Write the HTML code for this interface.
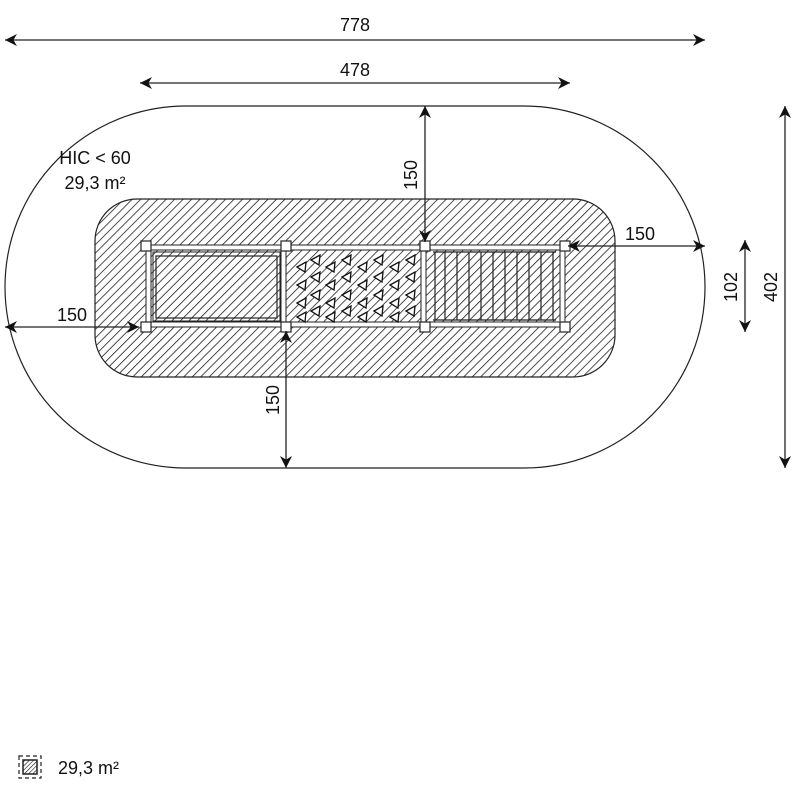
<!DOCTYPE html>
<html><head><meta charset="utf-8"><style>
html,body{margin:0;padding:0;background:#fff;width:800px;height:800px;overflow:hidden}
text{font-family:"Liberation Sans",sans-serif;font-size:18px;fill:#111}
</style></head><body>
<svg width="800" height="800" viewBox="0 0 800 800" xmlns="http://www.w3.org/2000/svg">
<defs>
<pattern id="h" patternUnits="userSpaceOnUse" width="6" height="6" patternTransform="rotate(45)">
<line x1="0" y1="0" x2="0" y2="6" stroke="#111" stroke-width="1.5"/>
</pattern>
<pattern id="h2" patternUnits="userSpaceOnUse" width="3" height="3" patternTransform="rotate(45)">
<line x1="0" y1="0" x2="0" y2="3" stroke="#111" stroke-width="1.2"/>
</pattern>
<marker id="a" viewBox="0 0 10 10" refX="10" refY="5" markerWidth="12" markerHeight="12" markerUnits="userSpaceOnUse" orient="auto-start-reverse">
<path d="M0,0 L10,5 L0,10 L3,5 z" fill="#111"/>
</marker>
</defs>
<rect x="5" y="106" width="700" height="362" rx="181" ry="181" fill="#fff" stroke="#222" stroke-width="1.2"/>
<rect x="95" y="199" width="520" height="178" rx="42" ry="42" fill="url(#h)" stroke="#222" stroke-width="1.2"/>
<g fill="#fff" stroke="#222" stroke-width="1">
<rect x="146" y="245" width="419" height="5"/>
<rect x="146" y="322" width="419" height="5"/>
<rect x="146" y="246" width="5" height="81"/>
<rect x="281" y="246" width="5" height="81"/>
<rect x="421" y="246" width="5" height="81"/>
<rect x="560" y="246" width="5" height="81"/>
</g>
<rect x="153" y="252" width="127" height="69" fill="none" stroke="#222" stroke-width="1"/>
<rect x="156" y="256" width="121" height="62" fill="none" stroke="#222" stroke-width="1.2"/>
<g stroke="#222" stroke-width="1.2">
<line x1="435" y1="252" x2="435" y2="320"/><line x1="445" y1="252" x2="445" y2="320"/>
<line x1="457" y1="252" x2="457" y2="320"/><line x1="469" y1="252" x2="469" y2="320"/>
<line x1="481" y1="252" x2="481" y2="320"/><line x1="493" y1="252" x2="493" y2="320"/>
<line x1="505" y1="252" x2="505" y2="320"/><line x1="517" y1="252" x2="517" y2="320"/>
<line x1="529" y1="252" x2="529" y2="320"/><line x1="541" y1="252" x2="541" y2="320"/>
<line x1="553" y1="252" x2="553" y2="320"/>
<line x1="433" y1="252" x2="556" y2="252"/><line x1="433" y1="320" x2="556" y2="320"/>
</g>
<g fill="#fff" stroke="#111" stroke-width="1.3">
<path d="M297,267 l9,-5 l-1,10 z"/><path d="M311,260 l9,-5 l-1,10 z"/><path d="M326,267 l9,-5 l-1,10 z"/><path d="M342,260 l9,-5 l-1,10 z"/><path d="M358,267 l9,-5 l-1,10 z"/><path d="M374,260 l9,-5 l-1,10 z"/><path d="M390,267 l9,-5 l-1,10 z"/><path d="M406,260 l9,-5 l-1,10 z"/>
<path d="M297,285 l9,-5 l-1,10 z"/><path d="M311,277 l9,-5 l-1,10 z"/><path d="M326,285 l9,-5 l-1,10 z"/><path d="M342,277 l9,-5 l-1,10 z"/><path d="M358,285 l9,-5 l-1,10 z"/><path d="M374,277 l9,-5 l-1,10 z"/><path d="M390,285 l9,-5 l-1,10 z"/><path d="M406,277 l9,-5 l-1,10 z"/>
<path d="M297,303 l9,-5 l-1,10 z"/><path d="M311,295 l9,-5 l-1,10 z"/><path d="M326,303 l9,-5 l-1,10 z"/><path d="M342,295 l9,-5 l-1,10 z"/><path d="M358,303 l9,-5 l-1,10 z"/><path d="M374,295 l9,-5 l-1,10 z"/><path d="M390,303 l9,-5 l-1,10 z"/><path d="M406,295 l9,-5 l-1,10 z"/>
<path d="M297,317 l9,-5 l-1,10 z"/><path d="M311,311 l9,-5 l-1,10 z"/><path d="M326,317 l9,-5 l-1,10 z"/><path d="M342,311 l9,-5 l-1,10 z"/><path d="M358,317 l9,-5 l-1,10 z"/><path d="M374,311 l9,-5 l-1,10 z"/><path d="M390,317 l9,-5 l-1,10 z"/><path d="M406,311 l9,-5 l-1,10 z"/>
</g>
<g fill="#fff" stroke="#222" stroke-width="1.2">
<rect x="141" y="241" width="10" height="10"/><rect x="281" y="241" width="10" height="10"/><rect x="420" y="241" width="10" height="10"/><rect x="560" y="241" width="10" height="10"/>
<rect x="141" y="322" width="10" height="10"/><rect x="281" y="322" width="10" height="10"/><rect x="420" y="322" width="10" height="10"/><rect x="560" y="322" width="10" height="10"/>
</g>
<g stroke="#222" stroke-width="1.3" fill="none">
<line x1="5" y1="40" x2="705" y2="40" marker-start="url(#a)" marker-end="url(#a)"/>
<line x1="140" y1="83" x2="570" y2="83" marker-start="url(#a)" marker-end="url(#a)"/>
<line x1="425" y1="106" x2="425" y2="242" marker-start="url(#a)" marker-end="url(#a)"/>
<line x1="568" y1="246" x2="705" y2="246" marker-start="url(#a)" marker-end="url(#a)"/>
<line x1="5" y1="327" x2="139" y2="327" marker-start="url(#a)" marker-end="url(#a)"/>
<line x1="286" y1="331" x2="286" y2="468" marker-start="url(#a)" marker-end="url(#a)"/>
<line x1="745" y1="240" x2="745" y2="332" marker-start="url(#a)" marker-end="url(#a)"/>
<line x1="785" y1="106" x2="785" y2="468" marker-start="url(#a)" marker-end="url(#a)"/>
</g>
<text x="355" y="31" text-anchor="middle">778</text>
<text x="355" y="76" text-anchor="middle">478</text>
<text x="640" y="240" text-anchor="middle">150</text>
<text x="72" y="321" text-anchor="middle">150</text>
<text transform="translate(417,175) rotate(-90)" text-anchor="middle">150</text>
<text transform="translate(279,400) rotate(-90)" text-anchor="middle">150</text>
<text transform="translate(737,287) rotate(-90)" text-anchor="middle">102</text>
<text transform="translate(777,287) rotate(-90)" text-anchor="middle">402</text>
<text x="95" y="164" text-anchor="middle">HIC &lt; 60</text>
<text x="95" y="189" text-anchor="middle">29,3 m²</text>
<rect x="19" y="756" width="22" height="22" fill="none" stroke="#222" stroke-width="1.2" stroke-dasharray="4,3"/>
<rect x="23" y="760" width="14" height="14" fill="url(#h2)" stroke="#222" stroke-width="1.5"/>
<text x="58" y="774">29,3 m²</text>
</svg>
</body></html>
